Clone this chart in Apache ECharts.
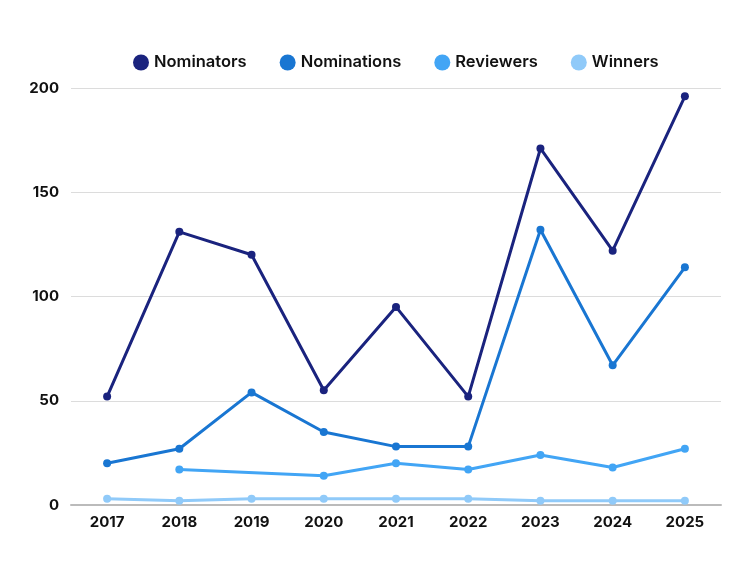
<!DOCTYPE html>
<html>
<head>
<meta charset="utf-8">
<script src="https://cdn.jsdelivr.net/npm/echarts@6/dist/echarts.min.js"></script>
<style>
  html, body { margin: 0; padding: 0; background: #fff; }
  #chart { width: 750px; height: 563px; }
</style>
</head>
<body>
<div id="chart"></div>
<script>
const YEARS = ['2017', '2018', '2019', '2020', '2021', '2022', '2023', '2024', '2025'];
const NOMINATORS = [52, 131, 120, 55, 95, 52, 171, 122, 196];
const NOMINATIONS = [20, 27, 54, 35, 28, 28, 132, 67, 114];
const REVIEWERS = [null, 17, null, 14, 20, 17, 24, 18, 27];
const WINNERS = [3, 2, 3, 3, 3, 3, 2, 2, 2];
const SERIES_NAMES = ['Nominators', 'Nominations', 'Reviewers', 'Winners'];
const COLORS = ['#1a237e', '#1976d2', '#42a5f5', '#90caf9'];

const FONT = 'Inter, "DejaVu Sans", sans-serif';

let chart = echarts.init(document.getElementById('chart'), null, { renderer: 'canvas' });

const values = [NOMINATORS, NOMINATIONS, REVIEWERS, WINNERS];

chart.setOption({
  animation: false,
  color: COLORS,
  textStyle: { fontFamily: FONT },
  legend: {
    top: 49,
    left: 128,
    icon: 'circle',
    itemWidth: 16,
    itemHeight: 16,
    itemGap: 33,
    textStyle: { fontSize: 16.5, fontWeight: 600, color: '#111', fontFamily: FONT },
    data: SERIES_NAMES
  },
  grid: { left: 71, right: 29, top: 88, bottom: 58 },
  xAxis: {
    type: 'category',
    data: YEARS,
    axisLine: { lineStyle: { color: '#bbb', width: 2 } },
    axisTick: { show: false },
    axisLabel: { fontSize: 15, fontWeight: 'bold', color: '#111', margin: 10, fontFamily: FONT }
  },
  yAxis: {
    type: 'value',
    min: 0,
    max: 200,
    interval: 50,
    axisLine: { show: false },
    axisTick: { show: false },
    axisLabel: { fontSize: 15, fontWeight: 'bold', color: '#111', margin: 12, fontFamily: FONT },
    splitLine: { lineStyle: { color: '#dcdcdc', width: 1 } }
  },
  series: SERIES_NAMES.map((name, i) => ({
    name: name,
    type: 'line',
    data: values[i],
    connectNulls: true,
    symbol: 'circle',
    symbolSize: 8,
    lineStyle: { width: 3, color: COLORS[i] },
    itemStyle: { color: COLORS[i] }
  }))
});
</script>
</body>
</html>
